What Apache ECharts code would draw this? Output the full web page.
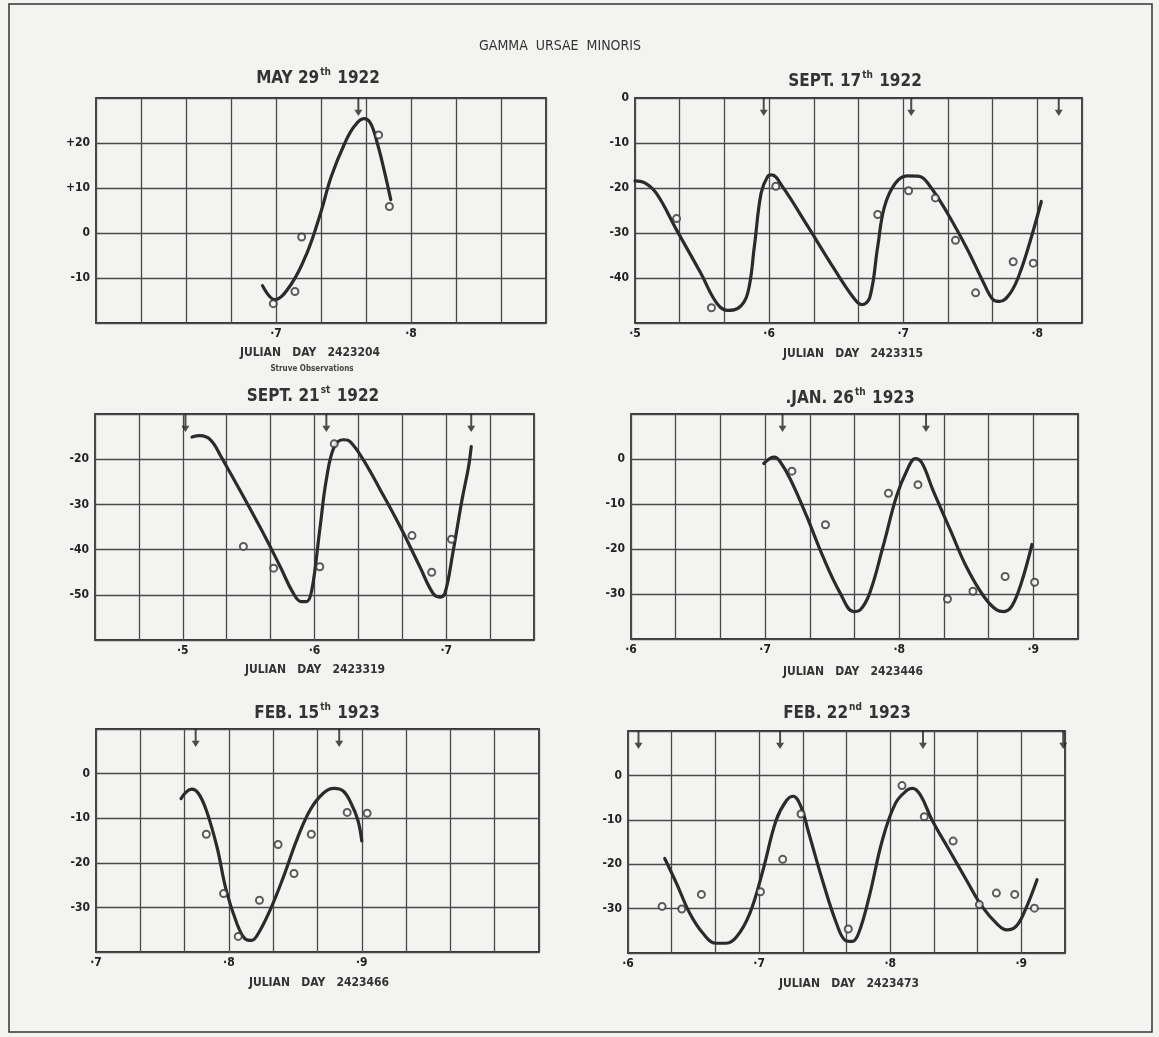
<!DOCTYPE html>
<html><head><meta charset="utf-8">
<script src="https://cdn.jsdelivr.net/npm/echarts@6/dist/echarts.min.js"></script>
<style>html,body{margin:0;padding:0;background:#f3f3f1;}#c{width:1159px;height:1037px;}</style>
</head><body><div id="c"></div>
<script>
// ---------- DATA (x = fraction of Julian day, y = value) ----------
const titles = ['MAY 29|th| 1922', 'SEPT. 17|th| 1922', 'SEPT. 21|st| 1922', '.JAN. 26|th| 1923', 'FEB. 15|th| 1923', 'FEB. 22|nd| 1923'];
const julianDays = ['2423204', '2423315', '2423319', '2423446', '2423466', '2423473'];

const curve1 = [[0.690,-11.7],[0.699,-14.8],[0.711,-11.5],[0.723,-4.4],[0.733,4.4],[0.741,12.6],[0.751,20.0],[0.758,23.7],[0.765,25.4],[0.770,24.4],[0.775,20.0],[0.780,14.1],[0.785,7.4]];
const obs1 = [[0.698,-15.7],[0.714,-13.0],[0.719,-0.9],[0.776,21.8],[0.784,5.9]];
const arrows1 = [0.761];

const curve2 = [[0.500,-18.4],[0.507,-18.8],[0.516,-21.2],[0.531,-29.3],[0.549,-38.9],[0.561,-45.6],[0.569,-47.2],[0.577,-46.7],[0.584,-43.4],[0.589,-33.0],[0.594,-21.2],[0.599,-17.4],[0.602,-17.1],[0.610,-19.7],[0.629,-28.6],[0.649,-38.2],[0.664,-44.8],[0.669,-45.9],[0.675,-44.4],[0.681,-33.0],[0.686,-24.2],[0.694,-19.0],[0.703,-17.3],[0.712,-17.4],[0.720,-19.6],[0.733,-25.6],[0.748,-33.7],[0.760,-41.1],[0.767,-44.8],[0.772,-45.2],[0.780,-43.3],[0.787,-38.9],[0.795,-31.5],[0.803,-23.0]];
const obs2 = [[0.531,-26.8],[0.557,-46.6],[0.605,-19.6],[0.681,-25.9],[0.704,-20.6],[0.724,-22.2],[0.739,-31.6],[0.754,-43.3],[0.782,-36.4],[0.797,-36.7]];
const arrows2 = [0.596, 0.706, 0.816];

const curve3 = [[0.507,-15.1],[0.513,-14.8],[0.521,-15.7],[0.529,-19.4],[0.559,-35.2],[0.574,-43.8],[0.584,-49.7],[0.590,-51.5],[0.594,-51.5],[0.598,-48.9],[0.604,-35.6],[0.609,-24.5],[0.615,-17.2],[0.622,-15.7],[0.627,-16.1],[0.637,-20.1],[0.650,-26.8],[0.665,-34.9],[0.680,-43.8],[0.690,-49.7],[0.695,-50.5],[0.699,-49.7],[0.705,-40.8],[0.712,-29.0],[0.717,-21.6],[0.719,-17.2]];
const obs3 = [[0.546,-39.3],[0.569,-44.1],[0.604,-43.8],[0.615,-16.6],[0.674,-36.9],[0.689,-45.0],[0.704,-37.7]];
const arrows3 = [0.502, 0.609, 0.719];

const curve4 = [[0.699,-1.0],[0.704,0.2],[0.707,0.4],[0.711,-0.5],[0.719,-4.6],[0.731,-12.7],[0.743,-21.6],[0.756,-29.8],[0.766,-33.9],[0.771,-33.5],[0.778,-29.8],[0.788,-19.4],[0.798,-8.3],[0.806,-2.4],[0.812,0.1],[0.817,-0.9],[0.825,-6.8],[0.838,-15.7],[0.850,-23.9],[0.863,-30.5],[0.873,-33.6],[0.878,-33.9],[0.884,-32.7],[0.891,-27.6],[0.899,-19.0]];
const obs4 = [[0.720,-2.7],[0.745,-14.6],[0.792,-7.6],[0.814,-5.7],[0.836,-31.1],[0.855,-29.4],[0.879,-26.1],[0.901,-27.4]];
const arrows4 = [0.713, 0.820];

const curve5 = [[0.764,-5.6],[0.768,-4.1],[0.772,-3.5],[0.777,-4.4],[0.783,-8.2],[0.791,-16.4],[0.798,-26.2],[0.806,-33.6],[0.812,-37.0],[0.817,-37.4],[0.822,-35.9],[0.831,-30.6],[0.841,-23.2],[0.851,-14.9],[0.861,-8.2],[0.871,-4.4],[0.879,-3.3],[0.886,-3.9],[0.892,-6.7],[0.897,-10.4],[0.900,-15.1]];
const obs5 = [[0.783,-13.6],[0.796,-26.9],[0.807,-36.5],[0.823,-28.4],[0.837,-15.9],[0.849,-22.4],[0.862,-13.6],[0.889,-8.7],[0.904,-8.9]];
const arrows5 = [0.775, 0.883];

const curve6 = [[0.628,-18.7],[0.637,-24.3],[0.647,-31.0],[0.657,-35.5],[0.667,-37.8],[0.675,-37.8],[0.683,-36.3],[0.693,-31.0],[0.703,-21.3],[0.713,-10.1],[0.721,-5.6],[0.726,-4.7],[0.732,-7.1],[0.738,-13.1],[0.749,-24.3],[0.759,-33.3],[0.766,-37.2],[0.771,-37.4],[0.776,-35.5],[0.784,-27.3],[0.794,-14.6],[0.804,-6.3],[0.813,-3.3],[0.817,-2.9],[0.823,-4.4],[0.832,-10.1],[0.845,-16.8],[0.858,-23.5],[0.870,-29.5],[0.882,-33.6],[0.889,-34.8],[0.896,-34.0],[0.903,-30.3],[0.912,-23.5]];
const obs6 = [[0.626,-29.5],[0.641,-30.1],[0.656,-26.8],[0.701,-26.2],[0.718,-18.9],[0.732,-8.7],[0.768,-34.6],[0.809,-2.3],[0.826,-9.3],[0.848,-14.8],[0.868,-29.1],[0.881,-26.5],[0.895,-26.8],[0.910,-29.9]];
const arrows6 = [0.608, 0.716, 0.825, 0.932];

// axis ranges and tick labels
const xRanges = [[0.5667,0.9],[0.5,0.8333],[0.4333,0.7667],[0.6,0.9333],[0.7,1.0333],[0.6,0.9333]];
const yRanges = [[-20,30],[-50,0],[-60,-10],[-40,10],[-40,10],[-40,10]];
const xTickLabels = [[0.7,0.8],[0.5,0.6,0.7,0.8],[0.5,0.6,0.7],[0.6,0.7,0.8,0.9],[0.7,0.8,0.9],[0.6,0.7,0.8,0.9]];
const yTickLabels = [[20,10,0,-10],[0,-10,-20,-30,-40],[-20,-30,-40,-50],[0,-10,-20,-30],[0,-10,-20,-30],[0,-10,-20,-30]];

const curves = [curve1,curve2,curve3,curve4,curve5,curve6];
const observations = [obs1,obs2,obs3,obs4,obs5,obs6];
const arrows = [arrows1,arrows2,arrows3,arrows4,arrows5,arrows6];

// ---------- LAYOUT ----------
const boxes = [
  {left:96, top:98, width:450, height:225},
  {left:635, top:98, width:447, height:225},
  {left:95, top:414, width:439, height:226},
  {left:631, top:414, width:447, height:225},
  {left:96, top:729, width:443, height:223},
  {left:628, top:731, width:437, height:222}
];
const titlePos = [[318,77],[855,80],[313,395],[850,397],[317,712],[847,712]];
const jdPos = [[310,353],[853,354],[315,670],[853,672],[319,983],[849,984]];

const FONT = '"Liberation Sans Narrow","DejaVu Sans Condensed","Roboto Condensed",sans-serif';
const INK = '#2b2b2b';
const CELLS = 30; // grid cells per day
const toCell = d => d * CELLS;
const ARROW = 'path://M3,0 L5,0 L5,13 L8,13 L4,20 L0,13 L3,13 Z';

const grid = [], xAxis = [], yAxis = [], series = [], graphic = [];
boxes.forEach((b, i) => {
  grid.push(Object.assign({show:true, borderColor:'#333', borderWidth:1.8, backgroundColor:'transparent'}, b));
  const xt = xTickLabels[i].map(t => Math.round(t * CELLS));
  xAxis.push({
    type:'value', gridIndex:i,
    min: Math.round(xRanges[i][0]*CELLS), max: Math.round(xRanges[i][1]*CELLS), interval:1,
    axisLine:{show:false}, axisTick:{show:false},
    splitLine:{show:true, lineStyle:{color:'#4a4a4a', width:1.3}},
    axisLabel:{show:true, showMinLabel:true, showMaxLabel:true, margin:5, color:'#222', fontSize:12, fontWeight:'bold', fontFamily:FONT,
      formatter: v => { const k = xt.indexOf(Math.round(v)); return (k >= 0 && Math.abs(v-Math.round(v))<1e-6) ? '·' + xTickLabels[i][k].toFixed(1).slice(2) : ''; }}
  });
  yAxis.push({
    type:'value', gridIndex:i, min:yRanges[i][0], max:yRanges[i][1], interval:10,
    axisLine:{show:false}, axisTick:{show:false},
    splitLine:{show:true, lineStyle:{color:'#4a4a4a', width:1.3}},
    axisLabel:{show:true, showMinLabel:true, showMaxLabel:true, margin:6, color:'#222', fontSize:12, fontWeight:'bold', fontFamily:FONT,
      formatter: v => yTickLabels[i].indexOf(v) >= 0 ? (v > 0 ? '+' + v : String(v)) : ''}
  });
  series.push({type:'line', xAxisIndex:i, yAxisIndex:i, data: curves[i].map(p => [toCell(p[0]), p[1]]),
    smooth:0.4, showSymbol:false, silent:true, lineStyle:{color:INK, width:3.2, cap:'round', join:'round'}, z:3});
  series.push({type:'scatter', xAxisIndex:i, yAxisIndex:i, data: observations[i].map(p => [toCell(p[0]), p[1]]),
    symbol:'emptyCircle', symbolSize:7, itemStyle:{color:'#333', borderWidth:1.4}, z:4});
  series.push({type:'scatter', xAxisIndex:i, yAxisIndex:i, data: arrows[i].map(a => [toCell(a), yRanges[i][1]]),
    symbol:ARROW, symbolSize:[8,18], symbolOffset:[0,'50%'], symbolKeepAspect:false, itemStyle:{color:'#222'}, z:4});

  const parts = titles[i].split('|');
  graphic.push({type:'text', x:titlePos[i][0], y:titlePos[i][1], z:10,
    style:{text:'{a|'+parts[0]+'}{s|'+parts[1]+'}{a|'+parts[2]+'}', align:'center', verticalAlign:'middle',
      rich:{a:{fontSize:17, fontWeight:'bold', fontFamily:FONT, fill:'#333', lineHeight:20, verticalAlign:'bottom'},
            s:{fontSize:10, fontWeight:'bold', fontFamily:FONT, fill:'#333', lineHeight:20, verticalAlign:'top', padding:[0,1,8,1]}}}});
  graphic.push({type:'text', x:jdPos[i][0], y:jdPos[i][1], z:10,
    style:{text:'JULIAN   DAY   ' + julianDays[i], align:'center', verticalAlign:'middle', fontSize:12, fontWeight:'bold', fontFamily:FONT, fill:'#333'}});
});
graphic.push({type:'text', x:312, y:369, z:10, style:{text:'Struve Observations', align:'center', verticalAlign:'middle', fontSize:8, fontWeight:'bold', fontFamily:FONT, fill:'#444'}});
graphic.push({type:'text', x:560, y:46, z:10, style:{text:'GAMMA  URSAE  MINORIS', align:'center', verticalAlign:'middle', fontSize:14, fontFamily:FONT, fill:'#333'}});
graphic.push({type:'rect', z:1, shape:{x:9, y:4, width:1143, height:1028}, style:{fill:'none', stroke:'#333', lineWidth:1.5}});

const chart = echarts.init(document.getElementById('c'), null, {renderer:'canvas'});
chart.setOption({backgroundColor:'#f3f3f1', animation:false, grid, xAxis, yAxis, series, graphic});
</script></body></html>
